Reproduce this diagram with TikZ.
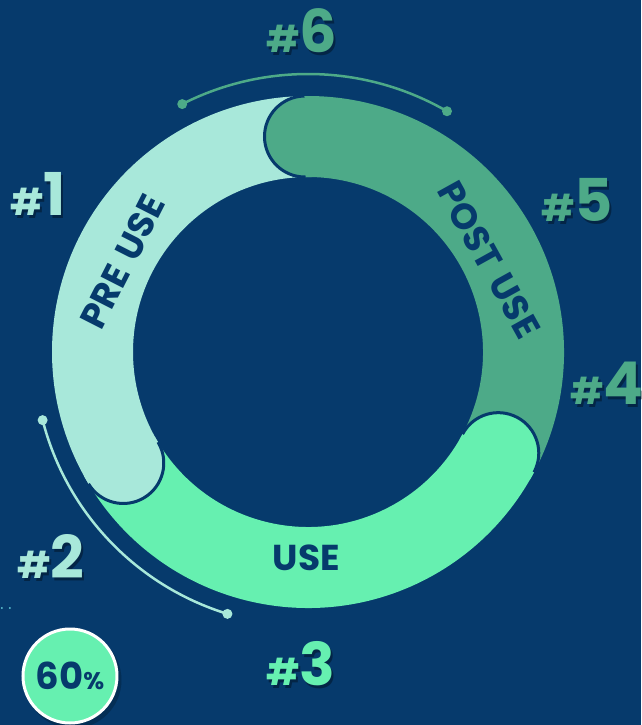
\documentclass[tikz,border=0pt]{standalone}
\usepackage{fontspec}
\setmainfont{Poppins}
\definecolor{navy}{HTML}{063A6C}
\definecolor{mint}{HTML}{A8E8DA}
\definecolor{leaf}{HTML}{66F0B0}
\definecolor{sea}{HTML}{4DAA88}
\newcommand\tagno[1]{{\fontsize{37}{37}\selectfont\#}\fontsize{59}{59}\selectfont #1}
\tikzset{
  ringtext/.style={text=navy,font=\fontsize{36}{36}\selectfont\bfseries,inner sep=0pt},
  numlab/.style={font=\bfseries,inner sep=0pt},
}

\begin{document}
\begin{tikzpicture}[x=1pt,y=1pt]
\def\rmid{215.5}
\def\rin{175}
\def\rout{256}
\def\half{40.5}
% background, 641 x 725, origin at ring centre
\fill[navy] (-308,-373) rectangle (333,352);
\useasboundingbox (-308,-373) rectangle (333,352);
% ================= ring =================
\foreach \a/\b/\c in {90.8/211/mint, 211/332/leaf, 332/450.8/sea}{
  \draw[color=\c,line width=81pt] (\a:\rmid) arc[start angle=\a,end angle=\b,radius=\rmid];
}
% rounded heads with outline (reach 2 deg back to hide the seam)
\foreach \b/\c in {211/mint, 332/leaf, 450.8/sea}{
  \pgfmathsetmacro\e{\b+180}
  \pgfmathsetmacro\s{\b-2}
  \fill[color=\c] (\s:\rout) arc[start angle=\s,end angle=\b,radius=\rout]
    arc[start angle=\b,end angle=\e,radius=\half]
    arc[start angle=\b,end angle=\s,radius=\rin] -- cycle;
  \draw[navy,line width=3pt] (\b:\rout) arc[start angle=\b,end angle=\e,radius=\half];
}
\node[ringtext,rotate=63] (pre) at (154:206) {PRE\hspace{11pt}USE};
\node[ringtext,rotate=-61] (post) at (27:203) {POST\hspace{11pt}USE};
\node[ringtext] (use) at (269.5:206) {USE};
% ================= thin arcs =================
\coordinate (t1) at (116.9:278);
\coordinate (t2) at (60:278);
\draw[sea,line width=2.5pt] (t1) arc[start angle=116.9,end angle=60,radius=278];
\fill[sea] (t1) circle (5) (t2) circle (5);
\coordinate (l1) at (194.4:274);
\coordinate (l2) at (252.9:274);
\draw[mint,line width=2.5pt] (l1) arc[start angle=194.4,end angle=252.9,radius=274];
\fill[mint] (l1) circle (5) (l2) circle (5);
% ================= numbers =================
\foreach \n/\x/\y/\c in {1/38/194/mint, 2/51/556/mint, 3/301/664/leaf,
                         4/607/383/sea, 5/577/200/sea, 6/302/31/sea}{
  \node[numlab,text=black,opacity=.35] at (\x-306,349-\y) {\tagno{\n}};
  \node[numlab,text=\c] (n\n) at (\x-308,352-\y) {\tagno{\n}};
}
% ================= badge =================
\fill[color=black!35!navy,opacity=.6] (-235,-328) circle (48.5);
\node[circle,fill=leaf,draw=white,line width=3pt,minimum size=94pt,inner sep=0pt,
      text=navy,font=\bfseries] (badge) at (-238,-324)
  {{\fontsize{37}{37}\selectfont 60}{\fontsize{24}{24}\selectfont\%}};
\fill[color=navy!40!cyan!60!white] (-306,-256) circle (1) (-298,-256) circle (1);
\end{tikzpicture}
\end{document}
